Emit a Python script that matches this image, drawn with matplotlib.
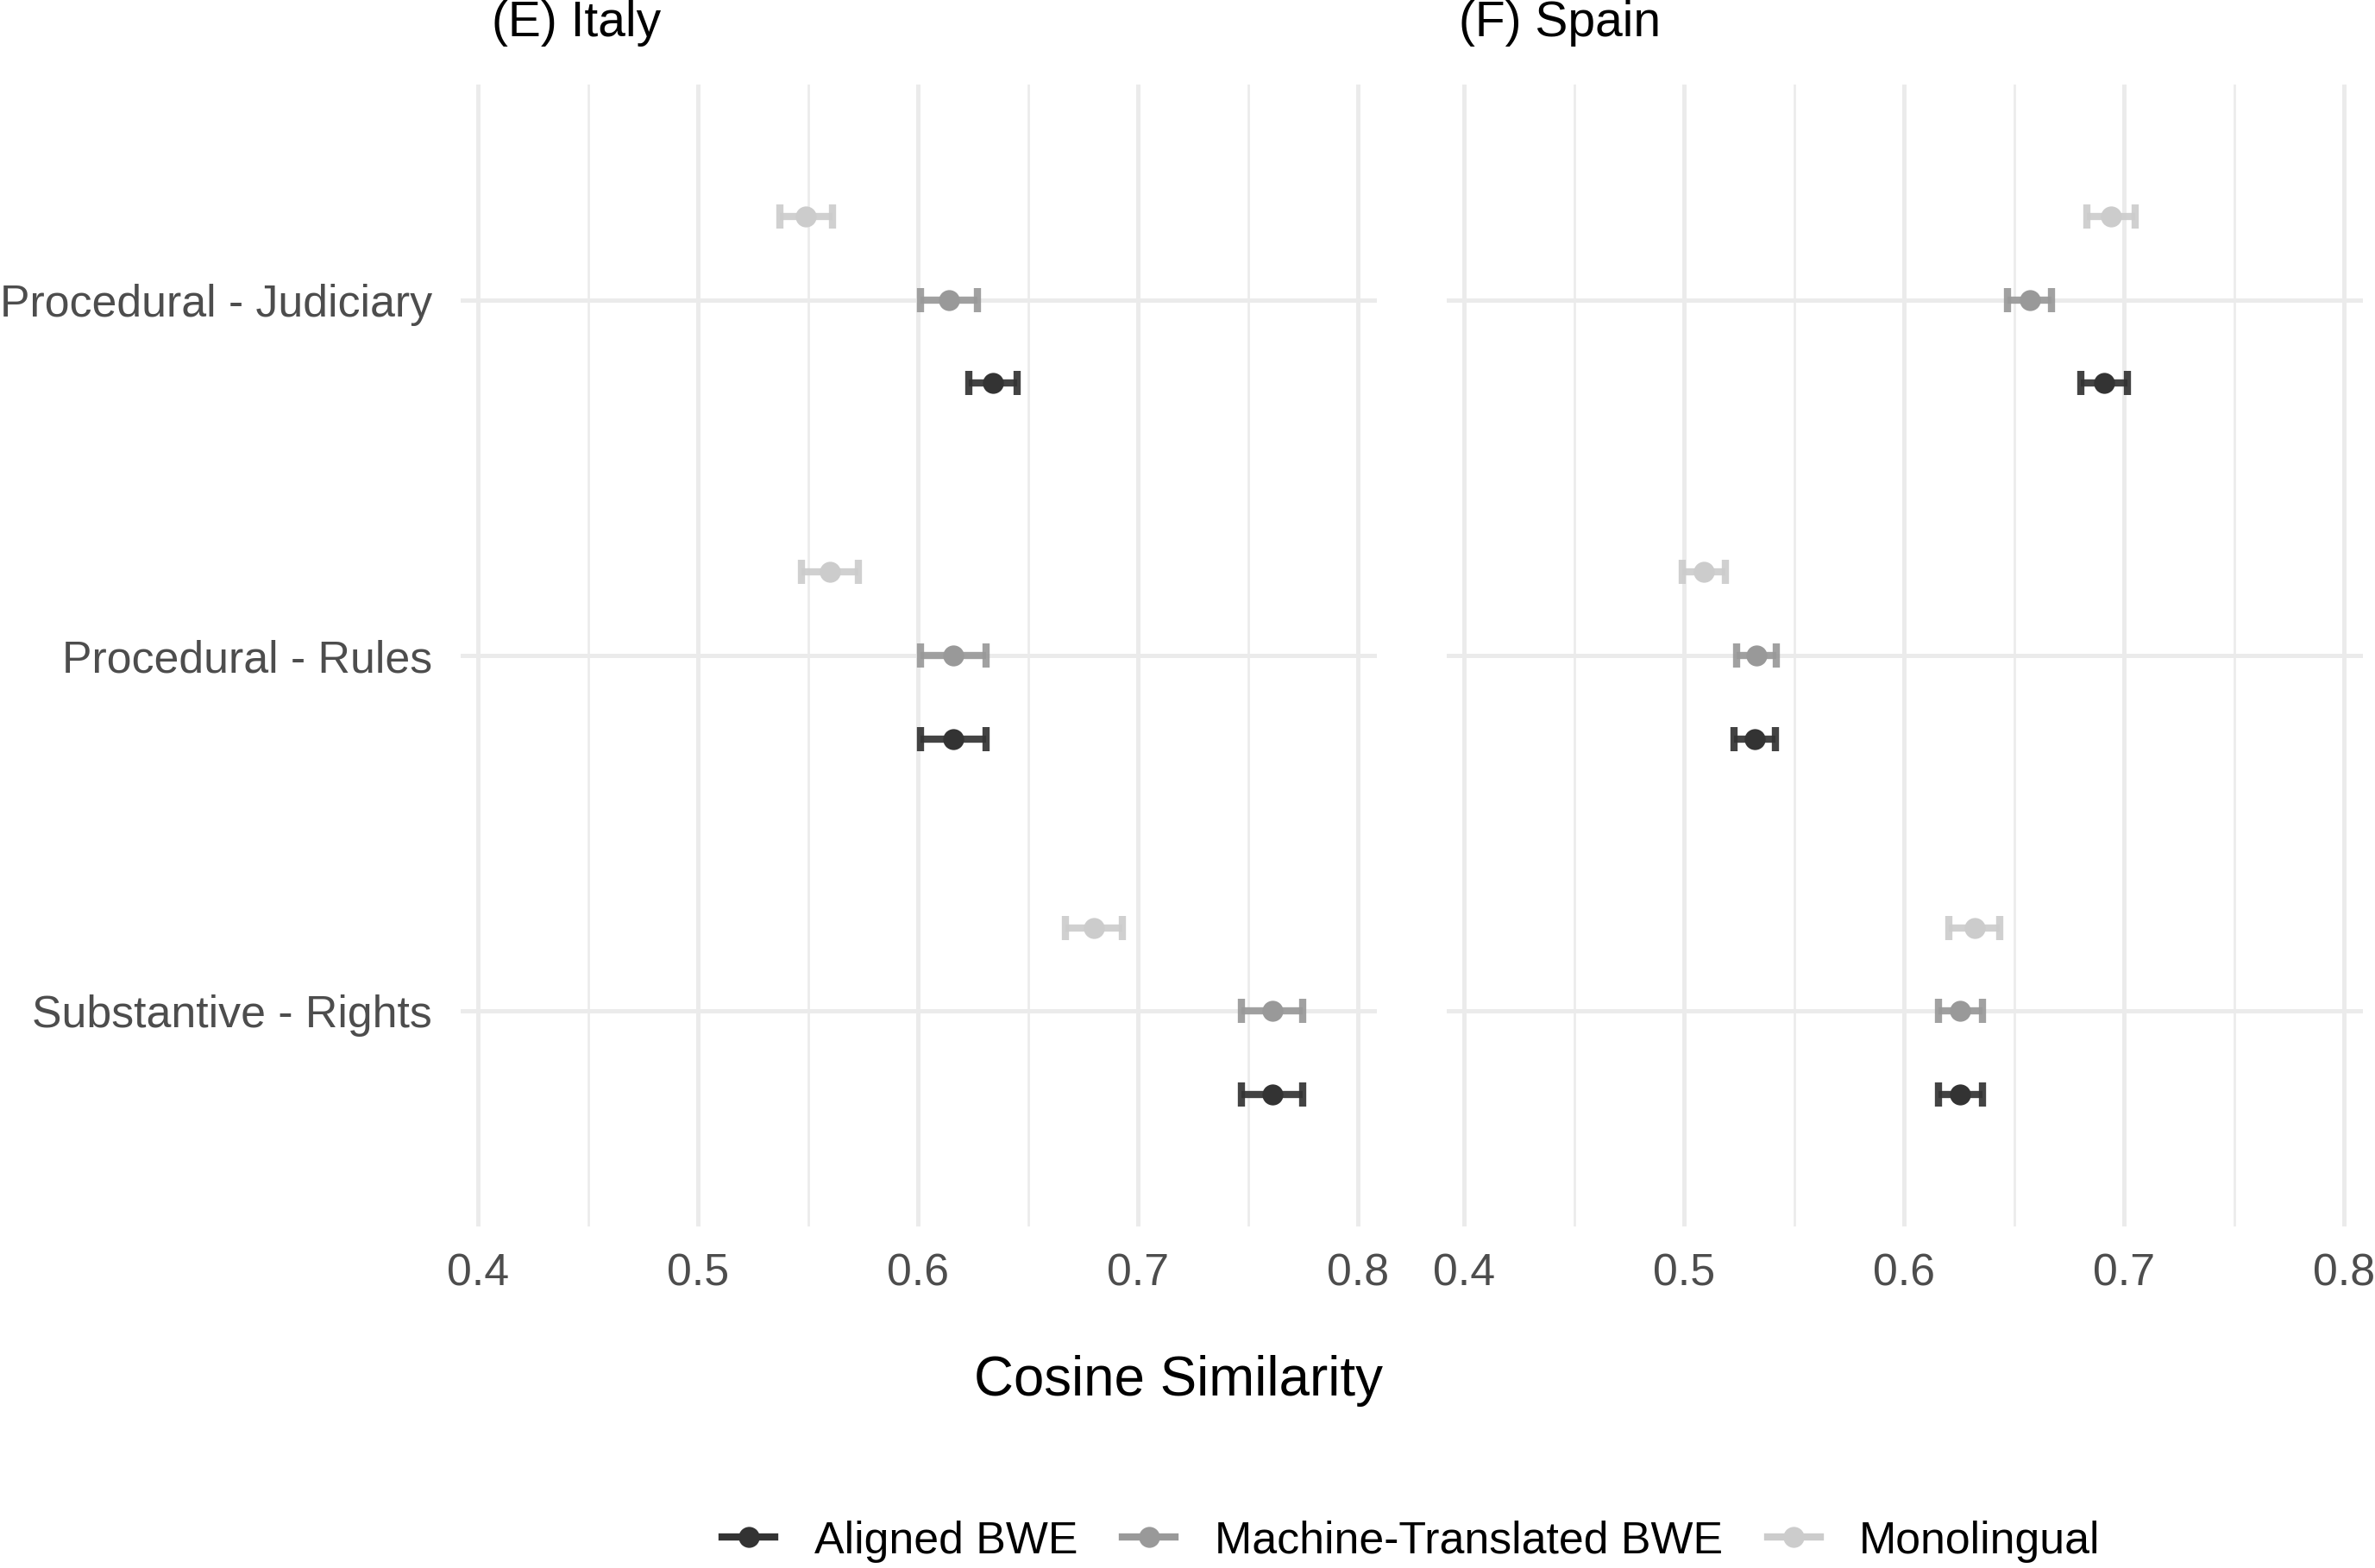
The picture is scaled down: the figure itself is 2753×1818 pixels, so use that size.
import matplotlib
matplotlib.use("Agg")
import matplotlib.pyplot as plt
from matplotlib.lines import Line2D
import numpy as np

plt.rcParams['font.family'] = ['Liberation Sans', 'DejaVu Sans']

categories = ["Procedural - Judiciary", "Procedural - Rules", "Substantive - Rights"]
methods = ["Aligned BWE", "Machine-Translated BWE", "Monolingual"]
colors = ["#333333", "#999999", "#CCCCCC"]

italy_aligned = [0.634, 0.616, 0.761]
italy_aligned_err = [0.011, 0.015, 0.014]
italy_mt = [0.614, 0.616, 0.761]
italy_mt_err = [0.013, 0.015, 0.014]
italy_mono = [0.549, 0.560, 0.680]
italy_mono_err = [0.012, 0.013, 0.013]

spain_aligned = [0.691, 0.532, 0.6255]
spain_aligned_err = [0.0105, 0.0093, 0.010]
spain_mt = [0.657, 0.533, 0.6255]
spain_mt_err = [0.010, 0.009, 0.010]
spain_mono = [0.694, 0.509, 0.632]
spain_mono_err = [0.011, 0.0098, 0.0115]

x_ticks = [0.4, 0.5, 0.6, 0.7, 0.8]
x_minor = [0.45, 0.55, 0.65, 0.75]

W, H = 2753, 1818
fig = plt.figure(figsize=(W / 100, H / 100), dpi=100)

def px_axes(x0, y0, x1, y1):
    return fig.add_axes([x0 / W, 1 - y1 / H, (x1 - x0) / W, (y1 - y0) / H])

ax_it = px_axes(534, 98, 1596, 1422)
ax_es = px_axes(1677, 98, 2739, 1422)

ypos = np.array([3, 2, 1], dtype=float)  # Judiciary top
offsets = [-0.234, 0.0, 0.234]  # aligned, MT, mono

grid_col = "#EBEBEB"
fs = 37.4
ms = 17.5
elw = 6.0

def draw(ax, series, errs, title, title_x, show_y):
    for xv in x_ticks:
        ax.axvline(xv, color=grid_col, lw=3.6, zorder=0)
    for xv in x_minor:
        ax.axvline(xv, color=grid_col, lw=1.9, zorder=0)
    for yv in ypos:
        ax.axhline(yv, color=grid_col, lw=3.6, zorder=0)
    for vals, e, off, c in zip(series, errs, offsets, colors):
        ax.errorbar(vals, ypos + off, xerr=e, fmt='none', ecolor=c,
                    elinewidth=elw, capsize=10, capthick=elw, alpha=0.92, zorder=2)
        ax.plot(vals, ypos + off, 'o', color=c, ms=ms, mec='none', zorder=3)
    ax.set_xlim(0.392, 0.8086)
    ax.set_ylim(0.395, 3.605)
    for s in ax.spines.values():
        s.set_visible(False)
    ax.set_xticks(x_ticks)
    ax.set_xticklabels([f"{v:g}" for v in x_ticks])
    ax.tick_params(axis='x', length=0, pad=22, labelsize=fs, labelcolor="#4D4D4D")
    if show_y:
        ax.set_yticks(ypos)
        ax.set_yticklabels(categories)
        ax.tick_params(axis='y', length=0, pad=24, labelsize=fs, labelcolor="#4D4D4D")
    else:
        ax.set_yticks([])
    fig.text(title_x / W, 1 - 27 / H, title, fontsize=41, ha='left', va='center', color='black')

draw(ax_it, [italy_aligned, italy_mt, italy_mono],
     [italy_aligned_err, italy_mt_err, italy_mono_err], "(E) Italy", 570, True)
draw(ax_es, [spain_aligned, spain_mt, spain_mono],
     [spain_aligned_err, spain_mt_err, spain_mono_err], "(F) Spain", 1691, False)

fig.text(1366 / W, 1 - 1601 / H, "Cosine Similarity", fontsize=45.8, ha='center', va='center', color='black')

handles = [Line2D([0], [0], color=c, lw=elw, marker='o', ms=ms, mec='none') for c in colors]
fig.legend(handles, methods, loc='center', bbox_to_anchor=(1636 / W, 1 - 1787 / H), ncol=3,
           frameon=False, fontsize=fs, handlelength=1.17, handletextpad=0.88, columnspacing=1.0,
           borderpad=0, borderaxespad=0)

fig.savefig("out.png", dpi=100, facecolor='white')
